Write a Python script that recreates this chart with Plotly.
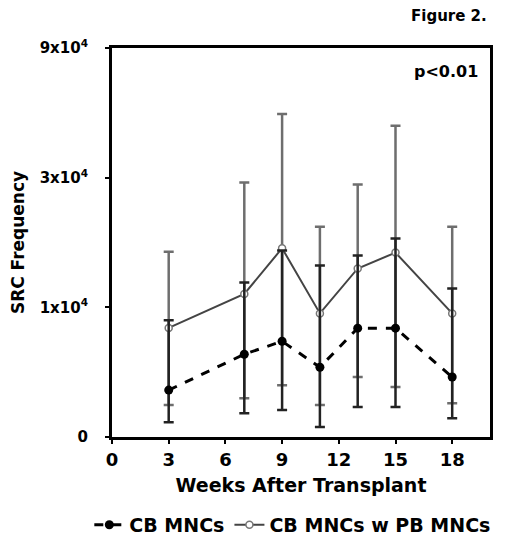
import plotly.graph_objects as go

# weeks after transplant
weeks = [3, 7, 9, 11, 13, 15, 18]

# CB MNCs (black, dashed)
cb_mean = [4960, 6720, 7500, 6020, 8380, 8380, 5540]
cb_upper = [8960, 12350, 16200, 14260, 15520, 17920, 11740]
cb_lower = [3780, 4080, 4190, 3630, 4300, 4300, 3910]

# CB MNCs w PB MNCs (grey, solid)
pb_mean = [8400, 11200, 16500, 9500, 13900, 15900, 9500]
pb_upper = [16000, 28800, 51500, 19800, 28300, 46600, 19800]
pb_lower = [4370, 4630, 5170, 4370, 5540, 5090, 4440]

ytick_vals = [10000 / 3, 10000, 30000, 90000]
ytick_text = ["0", "1x10<sup>4</sup>", "3x10<sup>4</sup>", "9x10<sup>4</sup>"]
xtick_vals = [0, 3, 6, 9, 12, 15, 18]

FONT = "DejaVu Sans"

def err(mean, up, lo):
    return dict(type="data", symmetric=False,
                array=[u - m for u, m in zip(up, mean)],
                arrayminus=[m - l for m, l in zip(mean, lo)])

fig = go.Figure()

e = err(pb_mean, pb_upper, pb_lower)
e.update(color="#6e6e6e", thickness=2.5, width=5)
fig.add_trace(go.Scatter(
    x=weeks, y=pb_mean, name="<b>CB MNCs w PB MNCs</b>",
    mode="lines+markers", error_y=e, legendrank=2,
    line=dict(color="#444444", width=2),
    marker=dict(symbol="circle", size=7, color="white",
                line=dict(color="#777777", width=1.5)),
))

e = err(cb_mean, cb_upper, cb_lower)
e.update(color="#222222", thickness=2.5, width=5)
fig.add_trace(go.Scatter(
    x=weeks, y=cb_mean, name="<b>CB MNCs</b>",
    mode="lines+markers", error_y=e, legendrank=1,
    line=dict(color="black", width=3, dash="dash"),
    marker=dict(symbol="circle", size=9, color="black"),
))

fig.update_layout(
    width=520, height=545,
    margin=dict(l=104, r=38, t=40, b=116, autoexpand=False),
    paper_bgcolor="white", plot_bgcolor="white",
    font=dict(family=FONT, color="black", size=14),
    showlegend=True,
    legend=dict(orientation="h", x=-0.06, xanchor="left",
                y=-0.226, yanchor="middle",
                font=dict(size=19, family=FONT), itemwidth=30, tracegroupgap=0),
    xaxis=dict(
        range=[0, 20], tickvals=xtick_vals,
        ticktext=[f"<b>{v}</b>" for v in xtick_vals],
        ticks="outside", ticklen=4, tickwidth=2, tickcolor="black",
        showline=True, linecolor="black", linewidth=3, mirror=True,
        showgrid=False, zeroline=False,
        tickfont=dict(size=18),
        title=dict(text="<b>Weeks After Transplant</b>", font=dict(size=19), standoff=11),
    ),
    yaxis=dict(
        type="log", range=[3.5229, 4.9542],
        tickvals=ytick_vals, ticktext=[f"<b>{t}</b>" for t in ytick_text],
        ticks="outside", ticklen=4, tickwidth=2, tickcolor="black",
        ticklabelstandoff=14,
        showline=True, linecolor="black", linewidth=3, mirror=True,
        showgrid=False, zeroline=False,
        tickfont=dict(size=15),
        title=dict(text="<b>SRC Frequency</b>", font=dict(size=17), standoff=12),
    ),
    annotations=[
        dict(text="<b>Figure 2.</b>", xref="paper", yref="paper", x=0.998, y=1.083,
             xanchor="right", yanchor="middle", showarrow=False, font=dict(size=15)),
        dict(text="<b>p<0.01</b>", xref="paper", yref="paper", x=0.974, y=0.94,
             xanchor="right", yanchor="middle", showarrow=False, font=dict(size=16)),
    ],
)

fig.write_html("out.html")
